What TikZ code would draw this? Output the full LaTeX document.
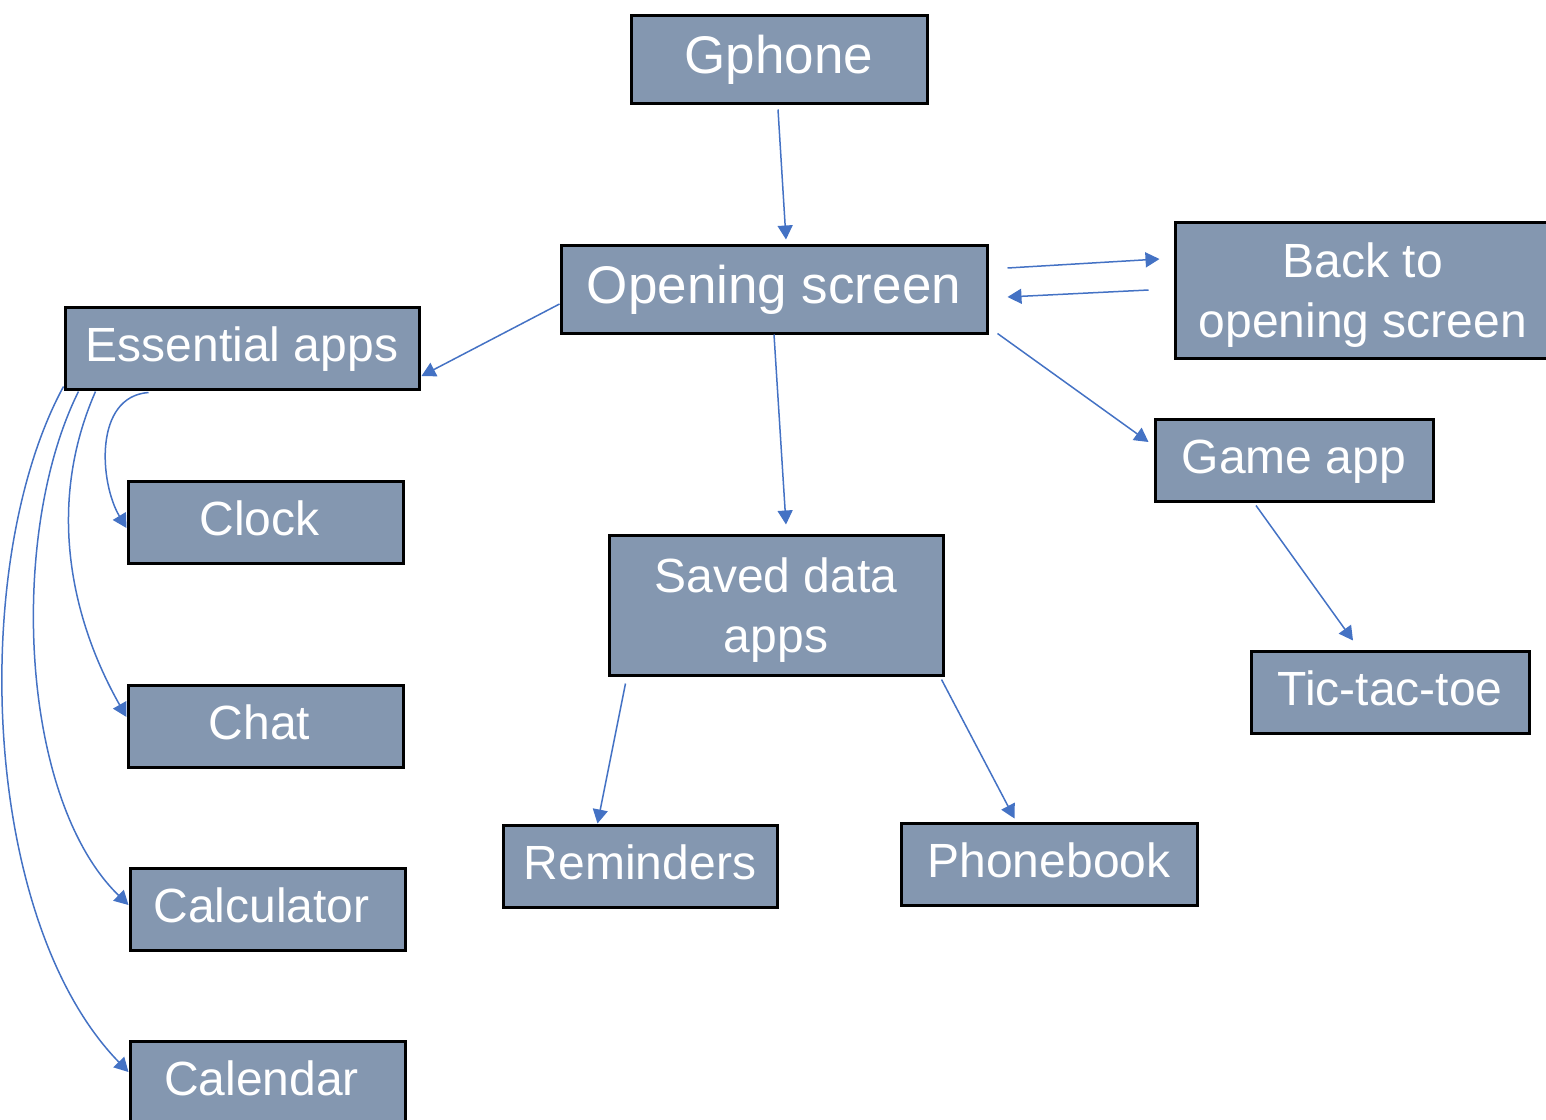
\documentclass[tikz,border=0pt]{standalone}
\usepackage{fontspec}
\setmainfont{Liberation Sans}
\usetikzlibrary{arrows.meta,calc}
\definecolor{boxfill}{HTML}{8497B0}
\definecolor{linkblue}{HTML}{4472C4}
\newcommand{\topstrut}{\rule{0pt}{22.5pt}}
\newcommand{\padright}[1]{\rule{#1}{0pt}}
\begin{document}
\begin{tikzpicture}[x=0.5pt,y=-0.5pt,
  appbox/.style={draw=black, line width=1.5pt, fill=boxfill, text=white,
    inner sep=0pt, font=\fontsize{24}{30}\selectfont, align=center},
  oneline/.style={appbox, text height=18.5pt, text depth=5.5pt},
  bigline/.style={appbox, font=\fontsize{26.5}{32}\selectfont,
    text height=20pt, text depth=6pt},
  link/.style={draw=linkblue, line width=0.75pt,
    -{Triangle[length=7pt,width=7.5pt]}}]
\useasboundingbox (0,0) rectangle (1546,1119);

% boxes
\node[bigline, minimum width=148pt, minimum height=44pt] (gphone) at (779,59) {Gphone};
\node[bigline, minimum width=213pt, minimum height=44pt] (opening) at (774,289) {Opening screen};
\node[appbox, minimum width=195pt, minimum height=68pt] (back) at (1370,290)
  {\topstrut Back to\padright{7pt}\\opening screen\padright{7pt}};
\node[oneline, minimum width=177pt, minimum height=41pt] (essential) at (242,348) {Essential apps};
\node[oneline, minimum width=139pt, minimum height=41pt] (game) at (1294,460) {Game app};
\node[oneline, minimum width=137.5pt, minimum height=41pt] (clock) at (265.5,522) {Clock\padright{6pt}};
\node[appbox, minimum width=167pt, minimum height=70pt] (saved) at (776,605) {\topstrut Saved data\\apps};
\node[oneline, minimum width=139pt, minimum height=41pt] (tic) at (1390,692) {Tic-tac-toe};
\node[oneline, minimum width=137.5pt, minimum height=41pt] (chat) at (265.5,726) {Chat\padright{6pt}};
\node[oneline, minimum width=137pt, minimum height=41pt] (reminders) at (640,866) {Reminders};
\node[oneline, minimum width=148pt, minimum height=41pt] (phonebook) at (1049,864) {Phonebook};
\node[oneline, minimum width=137.5pt, minimum height=41pt] (calculator) at (267.5,909) {Calculator\padright{6pt}};
\node[oneline, minimum width=137.5pt, minimum height=41pt] (calendar) at (267.5,1082) {Calendar\padright{6pt}};

% straight connectors
\draw[link] ($(gphone.south)+(-1,5)$) -- ($(opening.north)+(12,-4)$);
\draw[link] ($(opening.east)+(19,-21)$) -- ($(back.west)+(-14,-31)$);
\draw[link] ($(back.west)+(-25,0)$) -- ($(opening.east)+(19,8)$);
\draw[link] ($(opening.west)+(0,15)$) -- ($(essential.east)+(1,28)$);
\draw[link] (opening.south) -- ($(saved.north)+(10,-9)$);
\draw[link] ($(opening.south east)+(9,-1)$) -- ($(game.west)+(-5,-18)$);
\draw[link] ($(game.south)+(-38,3)$) -- ($(tic.north)+(-37,-9)$);
\draw[link] ($(saved.south west)+(18,7)$) -- ($(reminders.north west)+(96,0)$);
\draw[link] ($(saved.south east)+(-3,3)$) -- ($(phonebook.north west)+(115,-3)$);

% curved connectors from the essential apps
\draw[link] ($(essential.south west)+(85,2)$) .. controls +(-55,4) and +(-27,-45) .. ($(clock.west)+(0,6)$);
\draw[link] ($(essential.south west)+(32,1)$) .. controls +(-50,114) and +(-55,-97) .. ($(chat.west)+(0,-9)$);
\draw[link] ($(essential.south west)+(15,1)$) .. controls +(-70,140) and +(-110,-107) .. ($(calculator.west)+(0,-4)$);
\draw[link] ($(essential.south west)+(0,-4)$) .. controls +(-95,175) and +(-148,-152) .. ($(calendar.west)+(0,-10)$);
\end{tikzpicture}
\end{document}
